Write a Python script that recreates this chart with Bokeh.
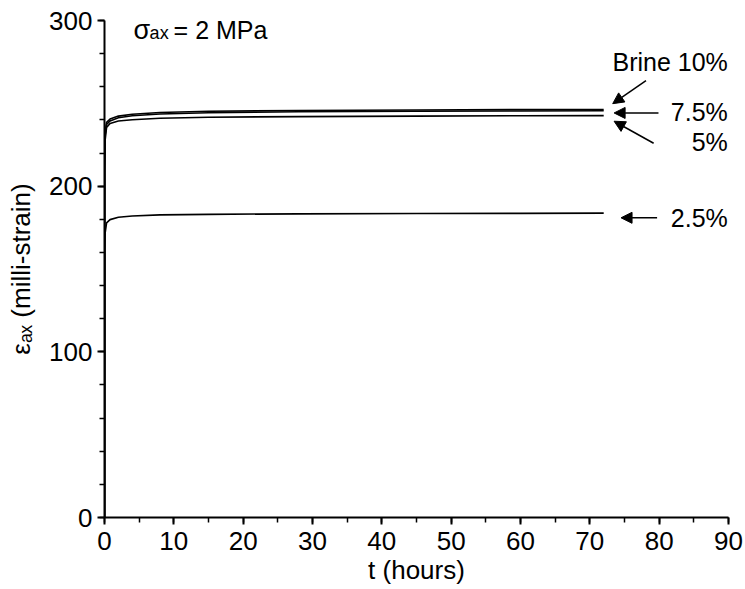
import math
from bokeh.plotting import figure
from bokeh.models import Range1d, SingleIntervalTicker, Label, Arrow, NormalHead
from bokeh.embed import file_html
from bokeh.resources import INLINE

# ---- data ----
t_hours = [0, 0.02, 0.1, 0.3, 0.8, 2, 4, 8, 15, 28, 45, 60, 72]
brine_10 = [0, 215, 233, 238.5, 240.5, 242.3, 243.4, 244.5, 245.2, 245.7, 246.0, 246.2, 246.3]
brine_75 = [0, 212, 231, 237.2, 239.4, 241.3, 242.5, 243.6, 244.3, 244.9, 245.2, 245.4, 245.5]
brine_5 = [0, 208, 228, 235.5, 237.8, 239.3, 240.1, 241.0, 241.6, 242.0, 242.3, 242.5, 242.6]
brine_25 = [0, 160, 172, 177.8, 179.8, 181.2, 182.0, 182.7, 183.0, 183.3, 183.5, 183.6, 183.7]
series = [brine_10, brine_75, brine_5, brine_25]
series_names = ["Brine 10%", "7.5%", "5%", "2.5%"]

x_ticks_major = 10
y_ticks_major = 100

FONT = "Liberation Sans"

W, H = 745, 589
p = figure(width=W, height=H, x_range=Range1d(0, 90), y_range=Range1d(0, 300),
           output_backend="svg", toolbar_location=None,
           min_border_left=104, min_border_right=17, min_border_top=20, min_border_bottom=72)
p.outline_line_color = None
p.xgrid.visible = False
p.ygrid.visible = False
p.background_fill_color = "white"
p.border_fill_color = "white"

for ax in (p.xaxis[0], p.yaxis[0]):
    ax.axis_line_width = 2
    ax.axis_line_color = "black"
    ax.major_tick_line_width = 2
    ax.major_tick_line_color = "black"
    ax.minor_tick_line_width = 1.5
    ax.minor_tick_line_color = "black"
    ax.major_tick_in = 0
    ax.major_tick_out = 7
    ax.minor_tick_in = 0
    ax.minor_tick_out = 5
    ax.major_label_text_font = FONT
    ax.major_label_text_font_size = "26px"
    ax.major_label_text_color = "black"
    ax.axis_label_text_font = FONT
    ax.axis_label_text_font_size = "26px"
    ax.axis_label_text_font_style = "normal"
    ax.axis_label_text_color = "black"

p.xaxis[0].ticker = SingleIntervalTicker(interval=x_ticks_major, num_minor_ticks=2)
p.yaxis[0].ticker = SingleIntervalTicker(interval=y_ticks_major, num_minor_ticks=5)
p.xaxis[0].major_label_standoff = 7
p.yaxis[0].major_label_standoff = 5
p.xaxis[0].axis_label = "t (hours)"
p.xaxis[0].axis_label_standoff = 2
p.yaxis[0].axis_label = "εₐₓ (milli-strain)"
p.yaxis[0].axis_label_standoff = 10

for ys in series:
    p.line(t_hours, ys, line_color="black", line_width=1.6)

# ---- annotations ----
def lab(x, y, text, size="25px", align="left", baseline="alphabetic", **kw):
    p.add_layout(Label(x=x, y=y, text=text, text_font=FONT, text_font_size=size,
                       text_align=align, text_baseline=baseline, text_color="black", **kw))

# sigma label
lab(4.2, 294.0, "σ", size="27px")
lab(4.2, 292.2, "ax", size="18px", x_offset=16)
lab(4.2, 294.0, "= 2 MPa", x_offset=40)

# right-hand labels
lab(89.9, 274.9, series_names[0], align="right")
lab(89.9, 244.7, series_names[1], align="right")
lab(89.9, 226.6, series_names[2], align="right")
lab(89.9, 180.9, series_names[3], align="right")

arrows = [
    (78.1, 263.7, 73.3, 249.8),
    (79.9, 244.2, 73.5, 244.2),
    (79.2, 225.9, 73.5, 239.2),
    (79.7, 180.9, 74.5, 180.9),
]
for xs, ys_, xe, ye in arrows:
    p.add_layout(Arrow(x_start=xs, y_start=ys_, x_end=xe, y_end=ye, line_width=1.5,
                       line_color="black",
                       end=NormalHead(size=11, fill_color="black", line_color="black")))

open("out.html", "w").write(file_html(p, INLINE))
